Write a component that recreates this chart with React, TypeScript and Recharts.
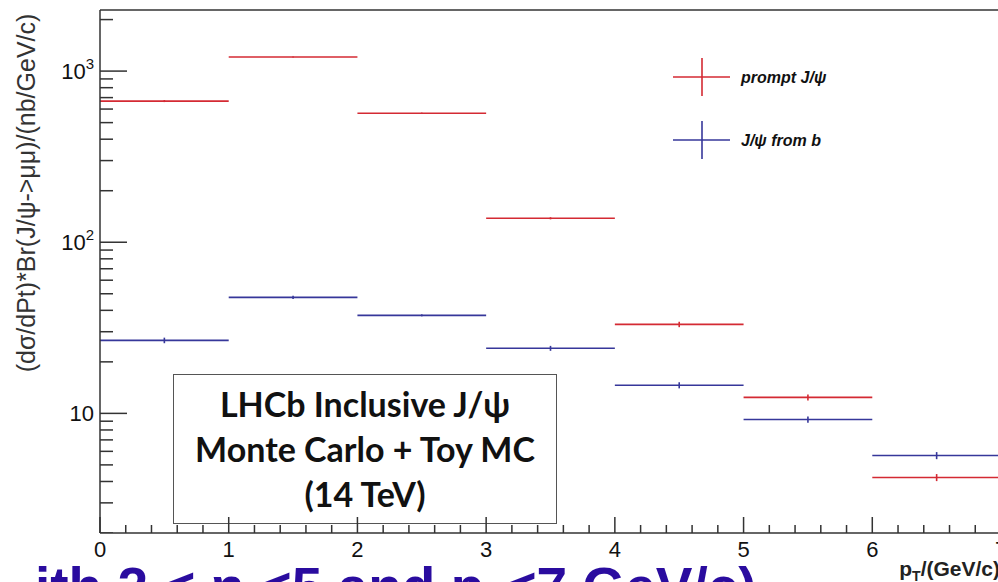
import { ComposedChart, Scatter, XAxis, YAxis, ErrorBar, ReferenceLine } from 'recharts';

// pT bins (GeV/c): centre and half-width
const binCenters = [0.5, 1.5, 2.5, 3.5, 4.5, 5.5, 6.5];
const binHalfWidths = [0.5, 0.5, 0.5, 0.5, 0.5, 0.5, 0.5];

// dσ/dpT * Br(J/ψ->μμ) in nb/(GeV/c)
const promptValues = [668, 1208, 567, 138, 33.1, 12.4, 4.22];
const promptErrors = [9, 8, 5, 2, 1.2, 0.5, 0.2];
const fromBValues = [26.7, 47.6, 37.4, 24.0, 14.6, 9.2, 5.67];
const fromBErrors = [1, 1, 0.5, 0.8, 0.6, 0.38, 0.27];

const seriesNames = ['prompt J/ψ', 'J/ψ from b'];
const seriesColors = ['#d42a33', '#36379a'];

const xMajorTicks = [0, 1, 2, 3, 4, 5, 6, 7];
const yMajorTicks = [10, 100, 1000];
const yMajorExponents = ['', '2', '3'];
const yDomain = [2, 2275];

const boxLines = ['LHCb Inclusive J/ψ', 'Monte Carlo + Toy MC', '(14 TeV)'];

// minor ticks every 0.2 on x, 1..9 per decade on y
const xTicks: number[] = [];
for (let i = 0; i <= 35; i++) xTicks.push(Math.round(i * 2) / 10);
const yTicks: number[] = [];
for (const decade of [1, 10, 100, 1000]) {
  for (let m = 1; m <= 9; m++) {
    const v = m * decade;
    if (v >= yDomain[0] && v <= yDomain[1]) yTicks.push(v);
  }
}

const promptData = binCenters.map((x, i) => ({
  x,
  y: promptValues[i],
  xe: binHalfWidths[i],
  ye: promptErrors[i],
}));
const fromBData = binCenters.map((x, i) => ({
  x,
  y: fromBValues[i],
  xe: binHalfWidths[i],
  ye: fromBErrors[i],
}));
// anchor points on the left edge for the inward y tick marks
const yTickMarks = yTicks.map((v) => ({ x: 0, y: v }));

const AXIS = '#333';
const FONT = '"Liberation Sans", Arial, sans-serif';

function XTick(props: any) {
  const x = Number(props.x);
  const y = Number(props.y);
  const v = Number(props.payload.value);
  const major = xMajorTicks.some((t) => Math.abs(t - v) < 1e-6);
  return (
    <g>
      <rect x={x - 0.75} y={y - (major ? 16 : 8)} width={1.5} height={major ? 16 : 8} fill={AXIS} />
      {major && (
        <text x={x} y={y + 24} textAnchor="middle" fontFamily={FONT} fontSize={22} fill="#111">
          {Math.round(v)}
        </text>
      )}
    </g>
  );
}

function YTick(props: any) {
  const x = Number(props.x);
  const y = Number(props.y);
  const idx = yMajorTicks.indexOf(Number(props.payload.value));
  if (idx < 0) return <g />;
  return (
    <text x={x - 6} y={y + 8} textAnchor="end" fontFamily={FONT} fontSize={22} fill="#111">
      10
      {yMajorExponents[idx] && (
        <tspan dy={-10} fontSize={15}>
          {yMajorExponents[idx]}
        </tspan>
      )}
    </text>
  );
}

// horizontal tick mark starting at the axis, longer on decades
function YTickMark(props: any) {
  const cx = Number(props.cx);
  const cy = Number(props.cy);
  const major = yMajorTicks.includes(props.payload.y);
  return <rect x={cx} y={cy - 0.75} width={major ? 27 : 13} height={1.5} fill={AXIS} />;
}

const noMarker = () => <g />;

export default function App() {
  return (
    <div
      style={{
        position: 'fixed',
        left: 0,
        top: 0,
        width: 998,
        height: 582,
        overflow: 'hidden',
        background: '#fff',
      }}
    >
      {/* annotation box, sits under the axes */}
      <div
        style={{
          position: 'absolute',
          left: 173,
          top: 374,
          width: 384,
          height: 150,
          boxSizing: 'border-box',
          border: '1.5px solid #555',
          background: '#fff',
        }}
      />
      <svg width={998} height={582} style={{ position: 'absolute', left: 0, top: 0 }}>
        {boxLines.map((t, i) => (
          <text
            key={t}
            x={365}
            y={417 + i * 45}
            textAnchor="middle"
            fontFamily="Lato, 'Open Sans', sans-serif"
            fontWeight={700}
            fontSize={34}
            fill="#111"
          >
            {t}
          </text>
        ))}
      </svg>

      <div style={{ position: 'absolute', left: 0, top: 0 }}>
        <ComposedChart
          width={1010}
          height={582}
          margin={{ top: 10, right: 9, bottom: 0, left: 0 }}
        >
          <XAxis
            type="number"
            dataKey="x"
            domain={[0, 7]}
            ticks={xTicks}
            interval={0}
            height={49}
            tickSize={0}
            tickMargin={0}
            tickLine={false}
            tick={<XTick />}
            axisLine={{ stroke: AXIS, strokeWidth: 1.5 }}
          />
          <YAxis
            type="number"
            dataKey="y"
            scale="log"
            domain={yDomain}
            allowDataOverflow
            ticks={yMajorTicks}
            interval={0}
            width={100}
            tickSize={0}
            tickMargin={0}
            tickLine={false}
            tick={<YTick />}
            axisLine={{ stroke: AXIS, strokeWidth: 1.5 }}
          />
          {/* top edge of the frame */}
          <ReferenceLine y={yDomain[1]} stroke={AXIS} strokeWidth={1.5} ifOverflow="visible" />
          <Scatter
            data={yTickMarks}
            shape={YTickMark}
            legendType="none"
            isAnimationActive={false}
          />
          <Scatter
            name={seriesNames[0]}
            data={promptData}
            shape={noMarker}
            isAnimationActive={false}
          >
            <ErrorBar dataKey="xe" direction="x" width={0} stroke={seriesColors[0]} strokeWidth={1.6} isAnimationActive={false} />
            <ErrorBar dataKey="ye" direction="y" width={0} stroke={seriesColors[0]} strokeWidth={1.6} isAnimationActive={false} />
          </Scatter>
          <Scatter
            name={seriesNames[1]}
            data={fromBData}
            shape={noMarker}
            isAnimationActive={false}
          >
            <ErrorBar dataKey="xe" direction="x" width={0} stroke={seriesColors[1]} strokeWidth={1.6} isAnimationActive={false} />
            <ErrorBar dataKey="ye" direction="y" width={0} stroke={seriesColors[1]} strokeWidth={1.6} isAnimationActive={false} />
          </Scatter>
        </ComposedChart>
      </div>

      {/* titles, legend and slide caption */}
      <svg width={998} height={582} style={{ position: 'absolute', left: 0, top: 0 }}>
        <text
          transform="translate(26,193) rotate(-90)"
          textAnchor="middle"
          dominantBaseline="central"
          fontFamily={FONT}
          fontSize={25}
          fill="#333"
        >
          (dσ/dPt)*Br(J/ψ-&gt;μμ)/(nb/GeV/c)
        </text>
        <text x={1000} y={576} textAnchor="end" fontFamily={FONT} fontWeight={700} fontSize={21} fill="#222">
          p<tspan dy={5} fontSize={14}>T</tspan>
          <tspan dy={-5}>/(GeV/c)</tspan>
        </text>

        {seriesNames.map((name, i) => {
          const cy = 77 + i * 63;
          return (
            <g key={name}>
              <line x1={673} x2={730} y1={cy} y2={cy} stroke={seriesColors[i]} strokeWidth={1.6} />
              <line x1={702} x2={702} y1={cy - 19} y2={cy + 19} stroke={seriesColors[i]} strokeWidth={1.6} />
              <text
                x={741}
                y={cy + 6}
                fontFamily={FONT}
                fontWeight={700}
                fontStyle="italic"
                fontSize={16}
                fill="#111"
              >
                {name}
              </text>
            </g>
          );
        })}

        <text x={35} y={606} fontFamily={FONT} fontWeight={700} fontSize={55} fill="#2a0c9f">
          ith 2 &lt; η &lt;5 and p<tspan dy={12} fontSize={33}>T</tspan>
          <tspan dy={-12}>&lt;7 GeV/c)</tspan>
        </text>
      </svg>
    </div>
  );
}
